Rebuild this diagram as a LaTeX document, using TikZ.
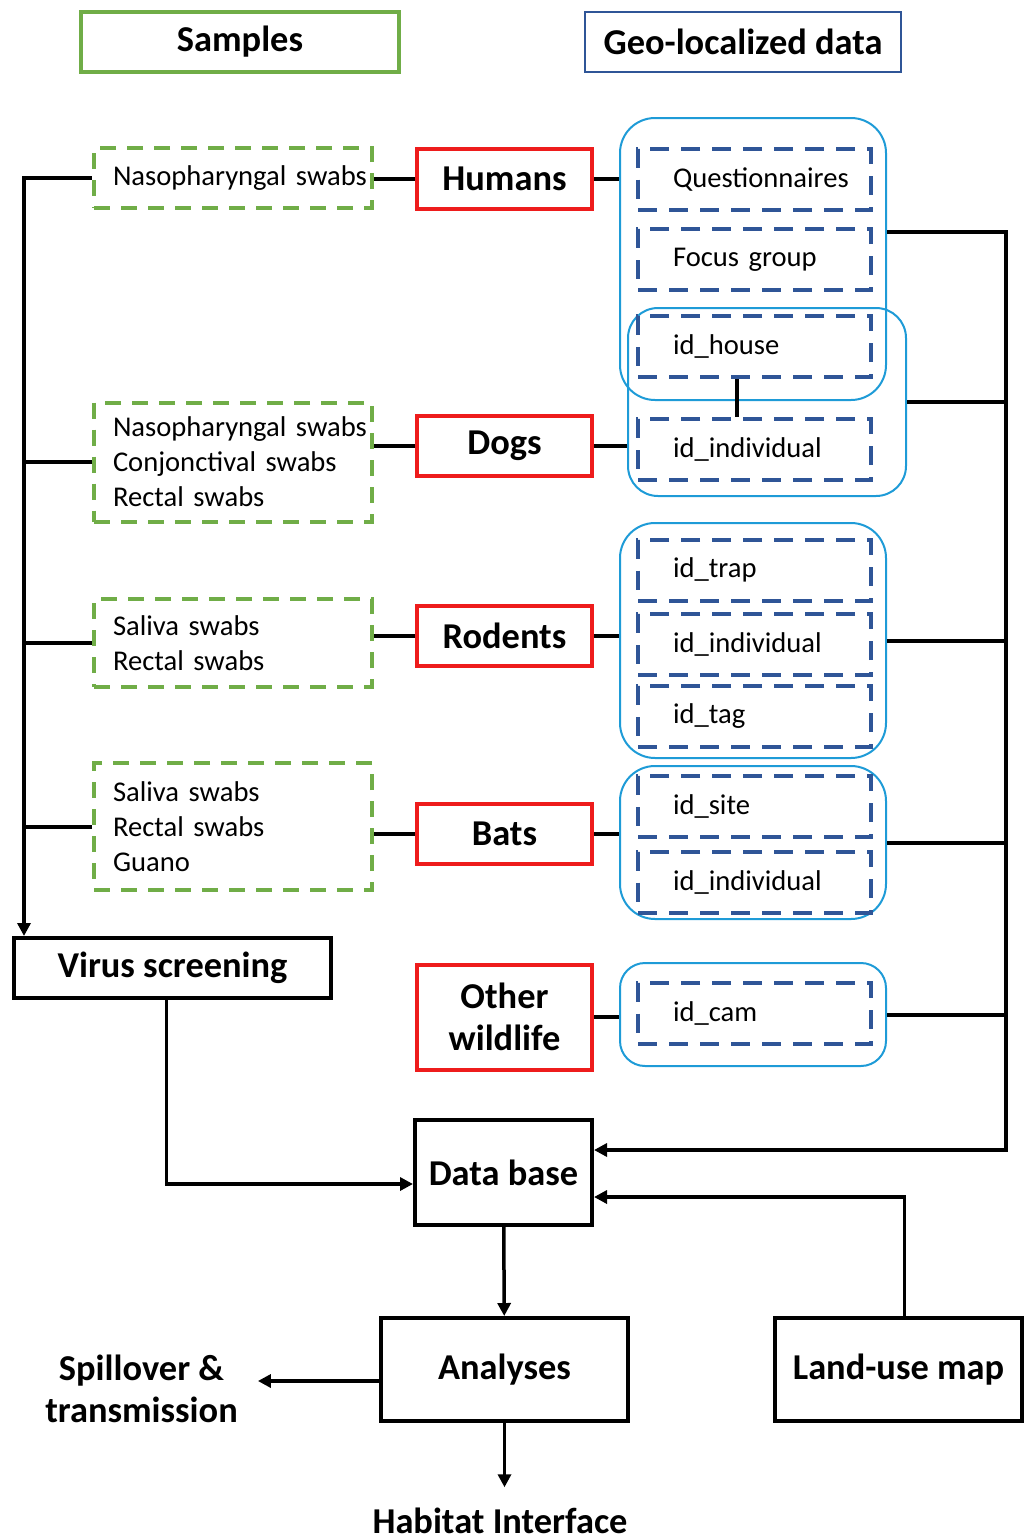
\documentclass[tikz,border=0pt]{standalone}
\usepackage{fontspec}
\setmainfont{Carlito}
\usetikzlibrary{positioning}
\usetikzlibrary{arrows.meta}
\usetikzlibrary{calc}
\definecolor{sgreen}{RGB}{112,173,71}
\definecolor{hred}{RGB}{238,28,28}
\definecolor{navy}{RGB}{47,85,151}
\definecolor{lblue}{RGB}{30,155,215}
\hyphenpenalty=10000
\tikzset{txtbig/.style={font=\bfseries\fontsize{36.4}{42}\selectfont}, txtsmall/.style={font=\fontsize{28.6}{35}\selectfont},
  smp/.style={txtsmall, draw=sgreen, line width=4pt, dash pattern=on 16pt off 11pt, minimum width=278pt, text width=240pt, inner xsep=19pt, align=left},
  host/.style={txtbig, draw=hred, line width=4pt, minimum width=175pt, minimum height=60pt, align=center},
  idbox/.style={txtsmall, draw=navy, line width=4pt, dash pattern=on 19pt off 12pt, minimum width=233pt, minimum height=61pt, text width=163pt, inner xsep=35pt, align=left},
  grp/.style={draw=lblue, line width=2pt, rounded corners=35pt, minimum width=266pt},
  blk/.style={txtbig, draw, line width=4pt, align=center},
  wire/.style={line width=4pt}, arr/.style={->, >={Triangle[length=13pt,width=13pt]}, line width=3.5pt}}

\begin{document}
\begin{tikzpicture}[x=1pt,y=-1pt]
  \useasboundingbox (0,0) rectangle (1028,1540);

  % headers
  \node (samples) [blk, draw=sgreen, minimum width=318pt, minimum height=60pt] at (240,42) {Samples};
  \node (geo) [blk, draw=navy, line width=2pt, minimum width=316pt, minimum height=60pt] at (743,42) {Geo-localized data};

  % samples
  \node (s1) [smp, minimum height=60pt] at (233,178) {Nasopharyngal~swabs};
  \node (s2) [smp, minimum height=119pt] at (233,462) {Nasopharyngal~swabs\\Conjonctival swabs\\Rectal swabs};
  \node (s3) [smp, minimum height=88pt] at (233,643) {Saliva swabs\\Rectal swabs};
  \node (s4) [smp, minimum height=127pt] at (233,826.5) {Saliva swabs\\Rectal swabs\\Guano};

  % hosts
  \node (hum) [host] at (504.5,179) {Humans};
  \node (dog) [host] at (504.5,446) {Dogs};
  \node (rod) [host] at (504.5,636) {Rodents};
  \node (bat) [host] at (504.5,834) {Bats};
  \node (oth) [host, minimum height=105pt] at (504.5,1017) {Other\\wildlife};

  % geo groups
  \node (g1) [grp, minimum height=282pt] at (753,259) {};
  \node (g2) [grp, minimum width=278pt, minimum height=188pt, rounded corners=30pt] at (767,402) {};
  \node (g3) [grp, minimum height=235pt] at (753,640.5) {};
  \node (g4) [grp, minimum height=153pt] at (753,842.5) {};
  \node (g5) [grp, minimum height=103pt, rounded corners=25pt] at (753,1014.5) {};

  \node (qs) [idbox] at (754.5,179) {Questionnaires};
  \node (fg) [idbox] at (754.5,259.5) {Focus group};
  \node (hs) [idbox] at (754.5,346.5) {id\_house};
  \node (di) [idbox] at (754.5,449.5) {id\_individual};
  \node (tr) [idbox] at (754.5,570) {id\_trap};
  \node (ri) [idbox] at (754.5,644.5) {id\_individual};
  \node (tg) [idbox] at (754.5,716.5) {id\_tag};
  \node (st) [idbox] at (754.5,806.5) {id\_site};
  \node (bi) [idbox] at (754.5,882) {id\_individual};
  \node (cm) [idbox] at (754.5,1013) {id\_cam};

  % bottom
  \node (vs) [blk, minimum width=317pt, minimum height=60pt] at (172.5,968) {Virus screening};
  \node (db) [blk, minimum width=177pt, minimum height=105pt] at (503.5,1172.5) {Data base};
  \node (an) [blk, minimum width=247pt, minimum height=103pt] at (504.5,1369.5) {Analyses};
  \node (lu) [blk, minimum width=247pt, minimum height=103pt] at (898.5,1369.5) {Land-use map};
  \node (sp) [txtbig, align=center, inner xsep=20pt] at (141.5,1389) {Spillover \&\\transmission};
  \node (hab) [txtbig, anchor=base, inner ysep=20pt] at (500,1533) {Habitat Interface};

  \coordinate (lt) at (24,178);
  \coordinate (rt) at (1006,232);
  \coordinate (rb) at (1006,1150);

  % connectors
  \draw[arr] (s1.west) -- (lt) -- (lt |- vs.north);
  \foreach \s in {s2,s3,s4} \draw[wire] (\s.west) -- (\s.west -| lt);
  \foreach \s/\h in {s1/hum, s2/dog, s3/rod, s4/bat} \draw[wire] (\h.west) -- (\h.west -| \s.east);
  \foreach \h/\g in {hum/g1, dog/g2, rod/g3, bat/g4, oth/g5} \draw[wire] (\h.east) -- (\h.east -| \g.west);
  \draw[wire] ([xshift=-18pt]hs.south) -- ([xshift=-18pt]di.north);
  \draw[arr] (g1.east |- rt) -- (rt) -- (rb) -- (rb -| db.east);
  \foreach \g in {g2,g3,g4,g5} \draw[wire] (\g.east) -- (\g.east -| rt);
  \draw[arr] ([xshift=-6pt]vs.south) |- ([yshift=-11.5pt]db.west);
  \draw[arr] ([xshift=6pt]lu.north) |- ([yshift=-24.5pt]db.east);
  \draw[arr] (db) -- (an);
  \draw[arr] ([yshift=-11.5pt]an.west) -- ([yshift=-11.5pt]an.west -| sp.east);
  \draw[arr] (an.south) -- (an.south |- hab.north);

\end{tikzpicture}
\end{document}
